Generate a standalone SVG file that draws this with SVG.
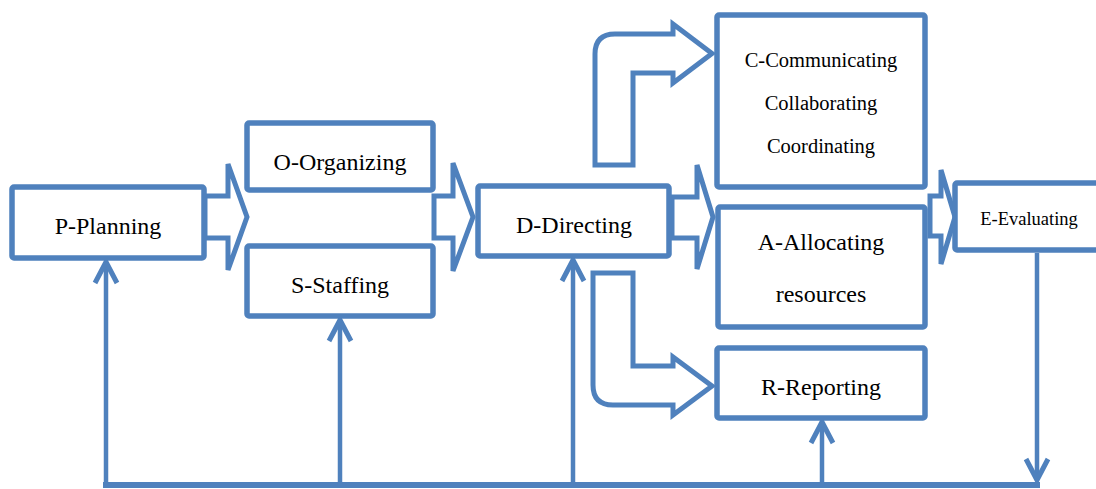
<svg xmlns="http://www.w3.org/2000/svg" width="1096" height="489" viewBox="0 0 1096 489">
<style>
.box{fill:#fff;stroke:#4F81BD;stroke-width:5.5;stroke-linejoin:round}
.blk{fill:#fff;stroke:#4F81BD;stroke-width:5;stroke-linejoin:miter}
.ln{fill:none;stroke:#4F81BD;stroke-width:4.5}
.hd{fill:none;stroke:#4F81BD;stroke-width:5;stroke-linejoin:miter;stroke-linecap:butt}
text{fill:#000;text-anchor:middle}
.t{font-size:24px}
.s{font-size:20.5px}
.e{font-size:18.5px}
</style>
<rect width="1096" height="489" fill="#fff"/>
<g id="connectors">
  <path class="blk" d="M205,196 L228,196 L228,164 L247,217 L228,270 L228,238 L205,238 Z"/>
  <path class="blk" d="M434,196 L453,196 L453,163 L473,217 L453,271 L453,238 L434,238 Z"/>
  <path class="blk" d="M672,197 L697,197 L697,165 L713,217 L697,269 L697,238 L672,238 Z"/>
  <path class="blk" d="M930,196 L941,196 L941,170 L955,217 L941,264 L941,236 L930,236 Z"/>
  <path class="blk" d="M595,165 L595,54 Q595,34 615,34 L673,34 L673,24 L712,53.5 L673,83 L673,73 L633,73 L633,165 Z"/>
  <path class="blk" d="M593,273 L633,273 L633,366 L673,366 L673,357 L712,386 L673,415 L673,405 L613,405 Q593,405 593,385 Z"/>
  <line class="ln" x1="103" y1="485" x2="1040" y2="485" style="stroke-width:6"/>
  <line class="ln" x1="106" y1="485" x2="106" y2="262"/>
  <polyline class="hd" points="95,283 106,262 117,283"/>
  <line class="ln" x1="340" y1="485" x2="340" y2="320"/>
  <polyline class="hd" points="329,341 340,320 351,341"/>
  <line class="ln" x1="573" y1="485" x2="573" y2="260"/>
  <polyline class="hd" points="562,281 573,260 584,281"/>
  <line class="ln" x1="822" y1="485" x2="822" y2="422"/>
  <polyline class="hd" points="811,443 822,422 833,443"/>
  <line class="ln" x1="1037" y1="253" x2="1037" y2="480"/>
  <polyline class="hd" points="1026,459 1037,480 1048,459"/>
</g>
<g font-family="'Liberation Serif', 'Times New Roman', 'DejaVu Serif', serif">
<g id="planning">
  <rect class="box" x="12" y="187" width="192" height="71" rx="2"/>
  <text class="t" x="108" y="234">P-Planning</text>
</g>
<g id="organizing">
  <rect class="box" x="247" y="123" width="186" height="67" rx="2"/>
  <text class="t" x="340" y="170">O-Organizing</text>
</g>
<g id="staffing">
  <rect class="box" x="247" y="246" width="186" height="70" rx="2"/>
  <text class="t" x="340" y="293">S-Staffing</text>
</g>
<g id="directing">
  <rect class="box" x="478" y="186" width="191" height="70" rx="2"/>
  <text class="t" x="574" y="233">D-Directing</text>
</g>
<g id="communicating">
  <rect class="box" x="717" y="15" width="208" height="172" rx="2"/>
  <text class="s" x="821" y="67">C-Communicating</text>
  <text class="s" x="821" y="110">Collaborating</text>
  <text class="s" x="821" y="153">Coordinating</text>
</g>
<g id="allocating">
  <rect class="box" x="718" y="207" width="207" height="120" rx="2"/>
  <text class="t" x="821" y="250">A-Allocating</text>
  <text class="t" x="821" y="302">resources</text>
</g>
<g id="reporting">
  <rect class="box" x="717" y="348" width="208" height="70" rx="2"/>
  <text class="t" x="821" y="395">R-Reporting</text>
</g>
<g id="evaluating">
  <rect class="box" x="955" y="183" width="150" height="67" rx="2"/>
  <text class="e" x="1029" y="225">E-Evaluating</text>
</g>
</g>
</svg>
